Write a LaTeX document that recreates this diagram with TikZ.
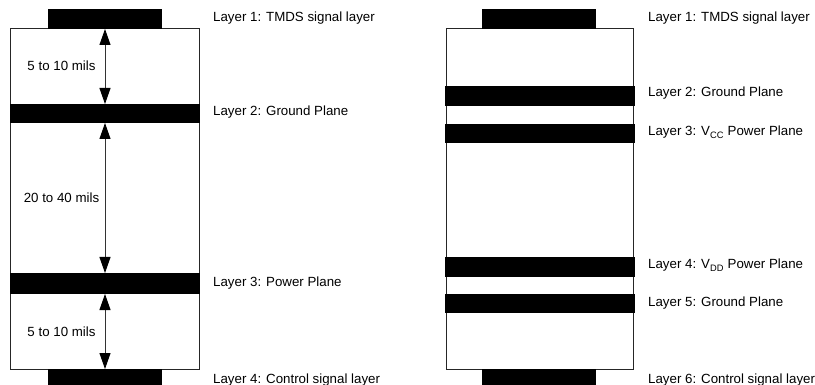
\documentclass[tikz,border=0pt]{standalone}
\usepackage{fontspec}
\setmainfont{Liberation Sans}
\usetikzlibrary{arrows.meta}
\begin{document}
\begin{tikzpicture}[x=1pt,y=-1pt,
  plane/.style={fill=black,draw=none,inner sep=0pt,outer sep=0pt,rectangle},
  board/.style={draw=black!85,line width=1pt},
  lbl/.style={anchor=base west,inner sep=0pt,font=\fontsize{13.3}{16}\selectfont},
  mils/.style={anchor=base,inner sep=0pt,font=\fontsize{13.3}{16}\selectfont},
  dim/.style={line width=0.9pt,black!80,{Triangle[length=16pt,width=11pt,black]}-{Triangle[length=16pt,width=11pt,black]}}]
\useasboundingbox (0,0) rectangle (815,385);
% ---------- left stack ----------
\draw[board] (10.5,29) rectangle (199.5,369);
\node[plane,minimum width=114,minimum height=20] (L1) at (105,19) {};
\node[plane,minimum width=190,minimum height=19] (L2) at (105,113.5) {};
\node[plane,minimum width=190,minimum height=21] (L3) at (105,283.5) {};
\node[plane,minimum width=114,minimum height=16] (L4) at (105,377) {};
\draw[dim] (L1.south) -- (L2.north);
\draw[dim] (L2.south) -- (L3.north);
\draw[dim] (L3.south) -- (L4.north);
\node[mils] (m1) at (61.5,71) {5 to 10 mils};
\node[mils] (m2) at (61.5,203) {20 to 40 mils};
\node[mils] (m3) at (61.5,336) {5 to 10 mils};
\node[lbl] (t1) at (213,22) {Layer 1: TMDS signal layer};
\node[lbl] (t2) at (213,116) {Layer 2: Ground Plane};
\node[lbl] (t3) at (213,287) {Layer 3: Power Plane};
\node[lbl] (t4) at (213,383) {Layer 4: Control signal layer};
% ---------- right stack ----------
\draw[board] (446.5,29) rectangle (633.5,369);
\node[plane,minimum width=114,minimum height=20] (R1) at (539,19) {};
\node[plane,minimum width=190,minimum height=20] (R2) at (539.5,96) {};
\node[plane,minimum width=190,minimum height=19] (R3) at (539.5,133.5) {};
\node[plane,minimum width=190,minimum height=20] (R4) at (539.5,267) {};
\node[plane,minimum width=190,minimum height=19] (R5) at (539.5,303.5) {};
\node[plane,minimum width=114,minimum height=16] (R6) at (539,377) {};
\node[lbl] (u1) at (648,22) {Layer 1: TMDS signal layer};
\node[lbl] (u2) at (648,97) {Layer 2: Ground Plane};
\node[lbl] (u3) at (648,136) {Layer 3: V\textsubscript{CC} Power Plane};
\node[lbl] (u4) at (648,269) {Layer 4: V\textsubscript{DD} Power Plane};
\node[lbl] (u5) at (648,306) {Layer 5: Ground Plane};
\node[lbl] (u6) at (648,383) {Layer 6: Control signal layer};
\end{tikzpicture}
\end{document}
